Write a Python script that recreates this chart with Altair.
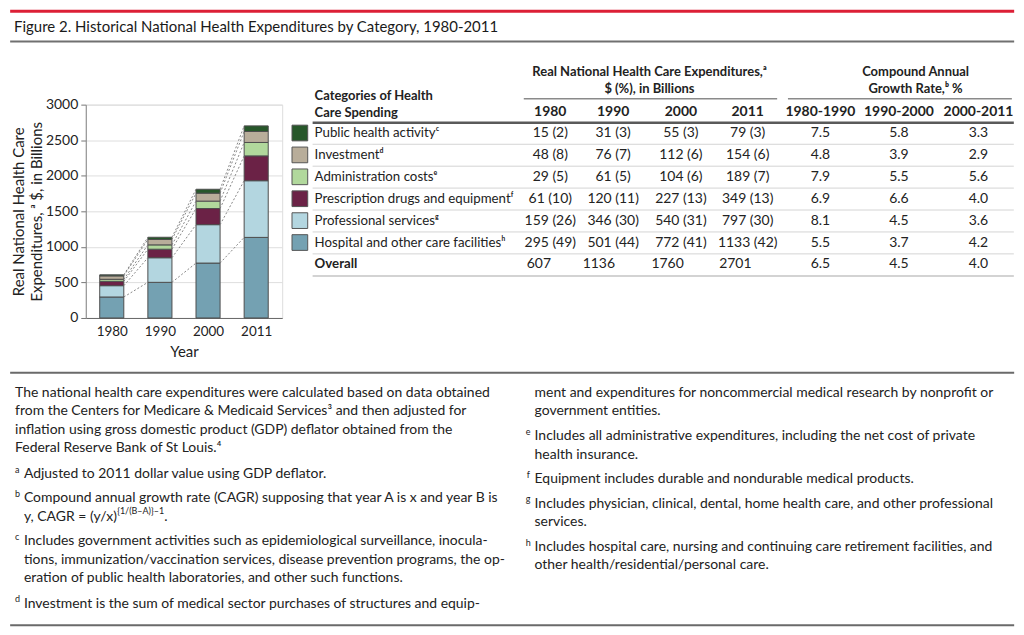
import json
import altair as alt
import pandas as pd

# ---------------- data ----------------
years = ["1980", "1990", "2000", "2011"]
periods = ["1980-1990", "1990-2000", "2000-2011"]
categories = ["Public health activity", "Investment", "Administration costs",
              "Prescription drugs and equipment", "Professional services",
              "Hospital and other care facilities"]
category_notes = ["ᶜ", "ᵈ", "ᵉ", "ᶠ", "ᵍ", "ʰ"]

public_health = [15, 31, 55, 79]
investment = [48, 76, 112, 154]
administration = [29, 61, 104, 189]
prescription = [61, 120, 227, 349]
professional = [159, 346, 540, 797]
hospital = [295, 501, 772, 1133]

public_health_pct = [2, 3, 3, 3]
investment_pct = [8, 7, 6, 6]
administration_pct = [5, 5, 6, 7]
prescription_pct = [10, 11, 13, 13]
professional_pct = [26, 30, 31, 30]
hospital_pct = [49, 44, 41, 42]

overall = [607, 1136, 1760, 2701]

cagr_public_health = [7.5, 5.8, 3.3]
cagr_investment = [4.8, 3.9, 2.9]
cagr_administration = [7.9, 5.5, 5.6]
cagr_prescription = [6.9, 6.6, 4.0]
cagr_professional = [8.1, 4.5, 3.6]
cagr_hospital = [5.5, 3.7, 4.2]
cagr_overall = [6.5, 4.5, 4.0]

y_ticks = [0, 500, 1000, 1500, 2000, 2500, 3000]

title_text = "Figure 2. Historical National Health Expenditures by Category, 1980-2011"
y_title = ["Real National Health Care", "Expenditures, ᵃ $, in Billions"]
x_title = "Year"
table_head_cat = ["Categories of Health", "Care Spending"]
table_head_exp = ["Real National Health Care Expenditures,ᵃ", "$ (%), in Billions"]
table_head_cagr = ["Compound Annual", "Growth Rate,ᵇ %"]
overall_label = "Overall"

note_intro = ["The national health care expenditures were calculated based on data obtained",
              "from the Centers for Medicare & Medicaid Services³ and then adjusted for",
              "inflation using gross domestic product (GDP) deflator obtained from the",
              "Federal Reserve Bank of St Louis.⁴"]
note_a = ["Adjusted to 2011 dollar value using GDP deflator."]
note_b = ["Compound annual growth rate (CAGR) supposing that year A is x and year B is"]
note_b_formula = "y, CAGR = (y/x)"
note_b_sup = "{1/(B–A)}–1"
note_c = ["Includes government activities such as epidemiological surveillance, inocula-",
          "tions, immunization/vaccination services, disease prevention programs, the op-",
          "eration of public health laboratories, and other such functions."]
note_d1 = ["Investment is the sum of medical sector purchases of structures and equip-"]
note_d2 = ["ment and expenditures for noncommercial medical research by nonprofit or",
           "government entities."]
note_e = ["Includes all administrative expenditures, including the net cost of private",
          "health insurance."]
note_f = ["Equipment includes durable and nondurable medical products."]
note_g = ["Includes physician, clinical, dental, home health care, and other professional",
          "services."]
note_h = ["Includes hospital care, nursing and continuing care retirement facilities, and",
          "other health/residential/personal care."]

# ---------------- style / layout ----------------
colors = ["#27572a", "#b8ad9a", "#b1d89c", "#6b2246", "#b3d6e0", "#74a1b2"]
FONT = "Lato"
TXT = "#222222"
FS_TITLE = 15
FS_LABEL = 13.3
FS_TABLE = 14
FS_HEAD = 13
FS_NOTE = 14
FS_AXIS = 14

PX0 = 8 + 0.985 * 77
PY0 = 8 + 0.9815 * (100 - 3)


def lx(r):
    return round(8 + 0.985 * r - PX0, 2)


def ly(r):
    return round(8 + 0.9815 * (r - 3) - PY0, 2)


PLOT_W = lx(277) - lx(77)
PLOT_H = ly(318) - ly(100)
FULL_L = 8 - PX0
FULL_R = 1015 - PX0

# ---------------- bar chart ----------------
series = [public_health, investment, administration, prescription, professional, hospital]
pct_series = [public_health_pct, investment_pct, administration_pct, prescription_pct,
              professional_pct, hospital_pct]
cagr_series = [cagr_public_health, cagr_investment, cagr_administration, cagr_prescription,
               cagr_professional, cagr_hospital]

HALF = 0.25
bar_rows = []
tops = {}
for yi, yr in enumerate(years):
    base = 0
    for ci in reversed(range(len(categories))):
        v = series[ci][yi]
        bar_rows.append(dict(year=yr, idx=yi, cat=categories[ci], lo=base, hi=base + v))
        tops[(ci, yi)] = base + v
        base += v
bars_df = pd.DataFrame(bar_rows)

conn_rows = []
for ci, cat in enumerate(categories):
    for i in range(len(years) - 1):
        conn_rows.append(dict(cat=cat, xa=i + HALF, xb=i + 1 - HALF,
                              ya=tops[(ci, i)], yb=tops[(ci, i + 1)]))
conn_df = pd.DataFrame(conn_rows)

xscale = alt.Scale(domain=[-0.54, 3.54], nice=False, zero=False)
yscale = alt.Scale(domain=[0, 3000], nice=False)
color_scale = alt.Scale(domain=categories, range=colors)

x_axis = alt.Axis(values=list(range(len(years))), labelExpr=f"{json.dumps(years)}[datum.value]",
                  title=x_title, grid=False, ticks=False, domain=True, domainColor="#666",
                  domainWidth=1, labelFontSize=13.5, labelFont=FONT, labelColor=TXT,
                  labelPadding=7, labelFlush=False, titleFontSize=FS_AXIS + 1, titleFont=FONT,
                  titleFontWeight="normal", titleColor=TXT, titlePadding=6)
y_axis = alt.Axis(values=y_ticks, format="d", title=y_title, grid=True, gridColor="#dedede",
                  gridWidth=1, tickSize=5, tickColor="#777", domainColor="#888",
                  labelFontSize=FS_AXIS, labelFont=FONT, labelColor=TXT, labelPadding=3,
                  titleFontSize=FS_AXIS + 1, titleFont=FONT, titleFontWeight="normal",
                  titleColor=TXT, titleLineHeight=18, titlePadding=1)

bars = alt.Chart(bars_df).transform_calculate(
    x0=f"datum.idx - {HALF}", x1=f"datum.idx + {HALF}"
).mark_bar(stroke="#4d4d4d", strokeWidth=1).encode(
    x=alt.X("x0:Q", scale=xscale, axis=x_axis),
    x2="x1:Q",
    y=alt.Y("lo:Q", scale=yscale, axis=y_axis),
    y2="hi:Q",
    color=alt.Color("cat:N", scale=color_scale, legend=None),
)

connectors = alt.Chart(conn_df).mark_rule(
    color="#7a7a7a", strokeWidth=0.9, strokeDash=[2, 2]
).encode(
    x=alt.X("xa:Q", scale=xscale, axis=x_axis),
    x2="xb:Q",
    y=alt.Y("ya:Q", scale=yscale, axis=y_axis),
    y2="yb:Q",
)

chart_group = alt.layer(bars, connectors)

# ---------------- table ----------------
row_keys = categories + [overall_label]
row_y = alt.Y("row:N", scale=alt.Scale(type="point", domain=row_keys, padding=0,
                                       range=[ly(129), ly(263.3)]), axis=None)

cells = []
for ci, cat in enumerate(categories):
    cells.append(dict(row=cat, col="label", text=cat + category_notes[ci], cat=cat))
    for yi, yr in enumerate(years):
        cells.append(dict(row=cat, col=yr, text=f"{series[ci][yi]} ({pct_series[ci][yi]})", cat=cat))
    for pi, per in enumerate(periods):
        cells.append(dict(row=cat, col=per, text=f"{cagr_series[ci][pi]:.1f}", cat=cat))
cells.append(dict(row=overall_label, col="label", text=overall_label, cat=""))
for yi, yr in enumerate(years):
    cells.append(dict(row=overall_label, col=yr, text=str(overall[yi]), cat=""))
for pi, per in enumerate(periods):
    cells.append(dict(row=overall_label, col=per, text=f"{cagr_overall[pi]:.1f}", cat=""))
cells_df = pd.DataFrame(cells)
cat_df = pd.DataFrame({"row": categories, "cat": categories})

year_cx = [lx(550), lx(614), lx(683), lx(751)]
overall_lx = [lx(526), lx(583), lx(653), lx(722)]
cagr_cx = [lx(825), lx(905), lx(986)]

table_layers = []
table_layers.append(
    alt.Chart(cat_df).mark_square(size=248, opacity=1, stroke="#555", strokeWidth=1).encode(
        x=alt.value(lx(295)), y=row_y,
        color=alt.Color("cat:N", scale=color_scale, legend=None))
)
table_layers.append(
    alt.Chart(cells_df).transform_filter(
        f"datum.col == 'label' && datum.row != '{overall_label}'"
    ).mark_text(align="left", baseline="middle", font=FONT, fontSize=FS_LABEL, color=TXT).encode(
        x=alt.value(lx(310)), y=row_y, text="text:N")
)
table_layers.append(
    alt.Chart(cells_df).transform_filter(
        f"datum.col == 'label' && datum.row == '{overall_label}'"
    ).mark_text(align="left", baseline="middle", font=FONT, fontSize=FS_LABEL, color=TXT,
                fontWeight="bold").encode(x=alt.value(lx(310)), y=row_y, text="text:N")
)
for yi, yr in enumerate(years):
    table_layers.append(
        alt.Chart(cells_df).transform_filter(
            f"datum.col == '{yr}' && datum.row != '{overall_label}'"
        ).mark_text(align="center", baseline="middle", font=FONT, fontSize=FS_TABLE,
                    color=TXT).encode(x=alt.value(year_cx[yi]), y=row_y, text="text:N")
    )
    table_layers.append(
        alt.Chart(cells_df).transform_filter(
            f"datum.col == '{yr}' && datum.row == '{overall_label}'"
        ).mark_text(align="left", baseline="middle", font=FONT, fontSize=FS_TABLE,
                    color=TXT).encode(x=alt.value(overall_lx[yi]), y=row_y, text="text:N")
    )
for pi, per in enumerate(periods):
    table_layers.append(
        alt.Chart(cells_df).transform_filter(f"datum.col == '{per}'").mark_text(
            align="center", baseline="middle", font=FONT, fontSize=FS_TABLE, color=TXT).encode(
            x=alt.value(cagr_cx[pi]), y=row_y, text="text:N")
    )
table_group = alt.layer(*table_layers)

# ---------------- decorations (lines and free text) ----------------
one = pd.DataFrame({"k": [0]})


def hline(x1, x2, y, color, width):
    return alt.Chart(one).mark_rule(color=color, strokeWidth=width, strokeCap="butt").encode(
        x=alt.value(x1), x2=alt.value(x2), y=alt.value(y))


def label(t, x, y, size=FS_TABLE, align="left", weight="normal", lh=None, color=TXT):
    kw = dict(text=t, font=FONT, fontSize=size, align=align, baseline="alphabetic",
              fontWeight=weight, color=color)
    if lh is not None:
        kw["lineHeight"] = lh
    return alt.Chart(one).mark_text(**kw).encode(x=alt.value(x), y=alt.value(y))


deco = []
# header
deco.append(hline(FULL_L, FULL_R, ly(4.5), "#dc1f36", 3))
deco.append(label(title_text, lx(4), ly(26), size=FS_TITLE, color="#1a1a1a"))
deco.append(hline(FULL_L, FULL_R, ly(35.5), "#707070", 2))

# table headers
deco.append(label(table_head_cat, lx(310), ly(95), size=FS_HEAD, weight="bold", lh=17))
deco.append(label(table_head_exp, lx(651), ly(70.7), size=FS_HEAD, align="center",
                  weight="bold", lh=17))
deco.append(label(table_head_cagr, lx(922), ly(70.7), size=FS_HEAD, align="center",
                  weight="bold", lh=17))
deco.append(hline(lx(523), lx(781), ly(94), "#8a8a8a", 1.5))
deco.append(hline(lx(792), lx(1020), ly(94), "#8a8a8a", 1.5))
for yi, yr in enumerate(years):
    deco.append(label(yr, year_cx[yi], ly(112), align="center", weight="bold"))
for pi, per in enumerate(periods):
    deco.append(label(per, cagr_cx[pi], ly(112), align="center", weight="bold"))
deco.append(hline(lx(308), lx(1022), ly(118.5), "#5a5a5a", 2.5))
for k in range(len(categories)):
    deco.append(hline(lx(308), lx(1022), ly(140.5 + 22.4 * k), "#d4d4d4", 1))
deco.append(hline(lx(308), lx(1022), ly(275), "#c4c4c4", 1.5))

# footnotes
LH = 18.6
SUP = 9
deco.append(hline(FULL_L, FULL_R, ly(374), "#6a6a6a", 2))
deco.append(label(note_intro, lx(5), ly(398.3), size=FS_NOTE, lh=LH))
deco.append(label("a", lx(5), ly(476), size=SUP))
deco.append(label(note_a, lx(14), ly(481.5), size=FS_NOTE, lh=LH))
deco.append(label("b", lx(5), ly(501), size=SUP))
deco.append(label(note_b, lx(14), ly(506.5), size=FS_NOTE, lh=LH))
deco.append(label(note_b_formula, lx(14), ly(525.3), size=FS_NOTE))
deco.append(label(note_b_sup, lx(109), ly(518.5), size=SUP))
deco.append(label(".", lx(157), ly(525.3), size=FS_NOTE))
deco.append(label("c", lx(5), ly(544.5), size=SUP))
deco.append(label(note_c, lx(14), ly(550), size=FS_NOTE, lh=LH))
deco.append(label("d", lx(5), ly(608.5), size=SUP))
deco.append(label(note_d1, lx(14), ly(614), size=FS_NOTE, lh=LH))
deco.append(label(note_d2, lx(534), ly(398.3), size=FS_NOTE, lh=LH))
deco.append(label("e", lx(525), ly(437.5), size=SUP))
deco.append(label(note_e, lx(534), ly(442.7), size=FS_NOTE, lh=LH))
deco.append(label("f", lx(526), ly(481.5), size=SUP))
deco.append(label(note_f, lx(534), ly(486.7), size=FS_NOTE, lh=LH))
deco.append(label("g", lx(525), ly(506.5), size=SUP))
deco.append(label(note_g, lx(534), ly(511.7), size=FS_NOTE, lh=LH))
deco.append(label("h", lx(525), ly(551), size=SUP))
deco.append(label(note_h, lx(534), ly(556), size=FS_NOTE, lh=LH))
deco.append(hline(FULL_L, FULL_R, ly(632), "#6a6a6a", 2))

chart = alt.layer(chart_group, table_group, *deco).resolve_scale(
    y="independent"
).properties(
    width=PLOT_W, height=PLOT_H, padding=0
).configure_view(strokeWidth=0).configure(font=FONT)

chart.save("out.html", embed_options={"renderer": "svg", "actions": False})
